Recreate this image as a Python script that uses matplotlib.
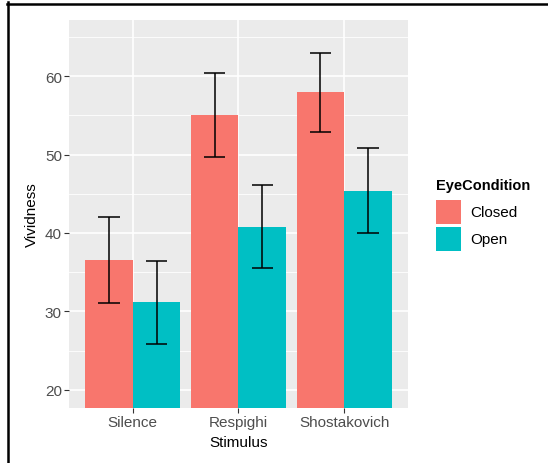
import matplotlib.pyplot as plt
import numpy as np
from matplotlib.patches import Rectangle
from matplotlib.lines import Line2D

plt.rcParams['font.family'] = ['Liberation Sans', 'DejaVu Sans']

stimulus = ['Silence', 'Respighi', 'Shostakovich']
conditions = ['Closed', 'Open']
closed_mean = [36.6, 55.1, 57.95]
closed_err = [5.5, 5.35, 5.0]
open_mean = [31.15, 40.8, 45.4]
open_err = [5.3, 5.3, 5.45]
fills = ['#F8766D', '#00BFC4']

W, H = 548, 464
fig = plt.figure(figsize=(W / 100, H / 100), dpi=100)

# panel in pixel coordinates (left, top, right, bottom)
pl, pt, pr, pb = 69.3, 21.0, 407.7, 409.0
ax = fig.add_axes([pl / W, 1 - pb / H, (pr - pl) / W, (pb - pt) / H])
ax.set_facecolor('#EBEBEB')

x = np.arange(len(stimulus))
width = 0.45
cap = 0.1
for i, (means, errs) in enumerate([(closed_mean, closed_err), (open_mean, open_err)]):
    means = np.array(means)
    errs = np.array(errs)
    pos = x + (i - 0.5) * width
    ax.bar(pos, means, width=width, color=fills[i], zorder=2)
    lo, hi = means - errs, means + errs
    ax.vlines(pos, lo, hi, color='black', lw=1.1, zorder=3)
    ax.hlines(np.r_[lo, hi], np.r_[pos, pos] - cap, np.r_[pos, pos] + cap,
              color='black', lw=1.1, zorder=3)

ax.set_xlim(-0.6, 2.6)
ax.set_ylim(17.66, 67.19)
ax.set_xticks(x)
ax.set_xticklabels(stimulus)
ax.set_yticks([20, 30, 40, 50, 60])
ax.set_yticks([25, 35, 45, 55, 65], minor=True)
ax.grid(which='major', color='white', lw=1.2)
ax.grid(which='minor', axis='y', color='white', lw=0.6)
ax.set_axisbelow(True)
for s in ax.spines.values():
    s.set_visible(False)
ax.tick_params(which='major', length=3.3, width=0.8, color='#333333',
               labelcolor='#4D4D4D', labelsize=11, pad=2)
ax.tick_params(which='minor', length=0)

fig.text(32 / W, 1 - 215 / H, 'Vividness', rotation=90, fontsize=11,
         ha='center', va='center')
fig.text((pl + pr) / 2 / W, 1 - 443 / H, 'Stimulus', fontsize=11,
         ha='center', va='center')

# legend
fig.text(436 / W, 1 - 186 / H, 'EyeCondition', fontsize=10.5,
         fontweight='bold', ha='left', va='center')
key_tops = [201, 228]
for lab, col, top in zip(conditions, fills, key_tops):
    fig.add_artist(Rectangle((436 / W, 1 - (top + 24) / H), 25 / W, 24 / H,
                             transform=fig.transFigure, facecolor=col,
                             edgecolor='none'))
    fig.text(470.7 / W, 1 - (top + 12) / H, lab, fontsize=11,
             ha='left', va='center')

# outer frame
fig.add_artist(Line2D([7.5 / W, 7.5 / W], [0, 1 - 3 / H], color='black',
                      lw=1.8, transform=fig.transFigure))
fig.add_artist(Line2D([6.5 / W, 1], [1 - 4.5 / H, 1 - 4.5 / H], color='black',
                      lw=1.8, transform=fig.transFigure))

fig.savefig('out.png', dpi=100)
